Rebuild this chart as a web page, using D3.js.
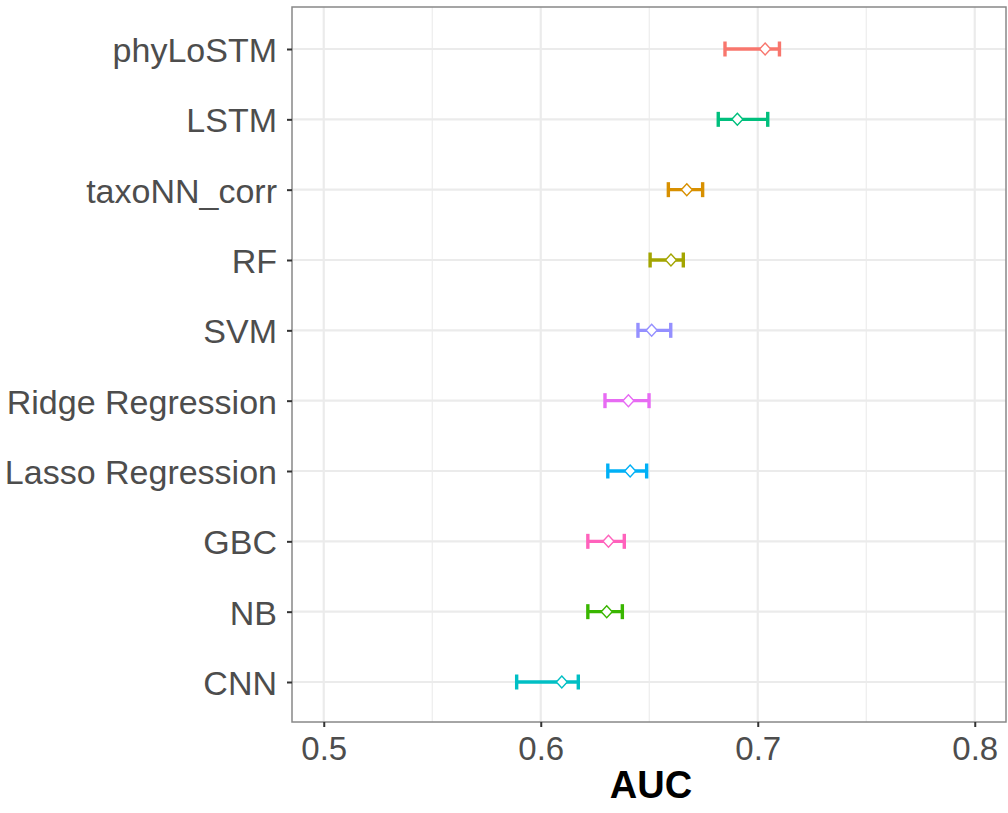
<!DOCTYPE html>
<html><head><meta charset="utf-8">
<script src="https://cdn.jsdelivr.net/npm/d3@7"></script>
<style>body{margin:0;background:#fff}svg{display:block}</style>
</head><body>
<svg id="chart" width="1008" height="813"></svg>
<script>
const models = ["phyLoSTM","LSTM","taxoNN_corr","RF","SVM","Ridge Regression","Lasso Regression","GBC","NB","CNN"];
const aucMean = [0.7034,0.6906,0.6673,0.6600,0.6511,0.6404,0.6412,0.6312,0.6304,0.6097];
const aucLow  = [0.6849,0.6818,0.6588,0.6504,0.6448,0.6296,0.6309,0.6217,0.6217,0.5889];
const aucHigh = [0.7100,0.7046,0.6746,0.6657,0.6599,0.6499,0.6488,0.6385,0.6376,0.6173];
const colors  = ["#F8766D","#00BF7D","#D89000","#A3A500","#9590FF","#E76BF3","#00B0F6","#FF62BC","#39B600","#00BFC4"];
const xMajor = [0.5,0.6,0.7,0.8];
const xMinor = [0.55,0.65,0.75];
const xTickLabels = ["0.5","0.6","0.7","0.8"];

const svg = d3.select("#chart");
const L = 292, R = 1006, T = 7, B = 722;
const FONT = "Liberation Sans, Arial, Helvetica, sans-serif";
const x = d3.scaleLinear().domain([0.48537, 0.81440]).range([L, R]);
const y = d3.scalePoint().domain(models).range([49, 682]);

const g = svg.append("g");
g.append("rect").attr("x",L).attr("y",T).attr("width",R-L).attr("height",B-T).attr("fill","#fff");
// grid
g.selectAll(".minor").data(xMinor).join("line")
  .attr("x1",d=>x(d)).attr("x2",d=>x(d)).attr("y1",T).attr("y2",B)
  .attr("stroke","#EBEBEB").attr("stroke-width",1.1);
g.selectAll(".major").data(xMajor).join("line")
  .attr("x1",d=>x(d)).attr("x2",d=>x(d)).attr("y1",T).attr("y2",B)
  .attr("stroke","#EBEBEB").attr("stroke-width",2.2);
g.selectAll(".hgrid").data(models).join("line")
  .attr("x1",L).attr("x2",R).attr("y1",d=>y(d)).attr("y2",d=>y(d))
  .attr("stroke","#EBEBEB").attr("stroke-width",2.2);

// error bars
const idx = d3.range(models.length);
const cap = 7.5;
const eb = g.selectAll(".eb").data(idx).join("g").attr("stroke",i=>colors[i]).attr("stroke-width",3.4).attr("fill","none");
eb.append("line").attr("x1",i=>x(aucLow[i])).attr("x2",i=>x(aucHigh[i])).attr("y1",i=>y(models[i])).attr("y2",i=>y(models[i]));
eb.append("line").attr("x1",i=>x(aucLow[i])).attr("x2",i=>x(aucLow[i])).attr("y1",i=>y(models[i])-cap).attr("y2",i=>y(models[i])+cap);
eb.append("line").attr("x1",i=>x(aucHigh[i])).attr("x2",i=>x(aucHigh[i])).attr("y1",i=>y(models[i])-cap).attr("y2",i=>y(models[i])+cap);
// diamonds
g.selectAll(".pt").data(idx).join("path")
  .attr("transform",i=>`translate(${x(aucMean[i])},${y(models[i])})`)
  .attr("d","M0,-6L5.5,0L0,6L-5.5,0Z")
  .attr("fill","#fff").attr("stroke",i=>colors[i]).attr("stroke-width",1.4);

// border
g.append("rect").attr("x",L).attr("y",T).attr("width",R-L).attr("height",B-T)
  .attr("fill","none").attr("stroke","#888").attr("stroke-width",1.5);

// axes
const xAxis = d3.axisBottom(x).tickValues(xMajor).tickFormat((d,i)=>xTickLabels[i]).tickSize(5).tickPadding(8);
const ax = svg.append("g").attr("transform",`translate(0,${B})`).call(xAxis);
ax.select(".domain").remove();
ax.selectAll(".tick line").attr("stroke","#333").attr("stroke-width",2);
ax.selectAll(".tick text").attr("fill","#4D4D4D").attr("font-size",33).attr("font-family",FONT).attr("dy",null).attr("y",38);

const yAxis = d3.axisLeft(y).tickSize(5).tickPadding(10);
const ay = svg.append("g").attr("transform",`translate(${L},0)`).call(yAxis);
ay.select(".domain").remove();
ay.selectAll(".tick line").attr("stroke","#333").attr("stroke-width",2);
ay.selectAll(".tick text").attr("fill","#4D4D4D").attr("font-size",34).attr("font-family",FONT).attr("dy","0.37em");

svg.append("text").attr("x",(L+R)/2 + 2).attr("y",798).attr("text-anchor","middle")
  .attr("font-family",FONT).attr("font-weight","bold").attr("font-size",38)
  .attr("fill","#000").text("AUC");
</script>
</body></html>
